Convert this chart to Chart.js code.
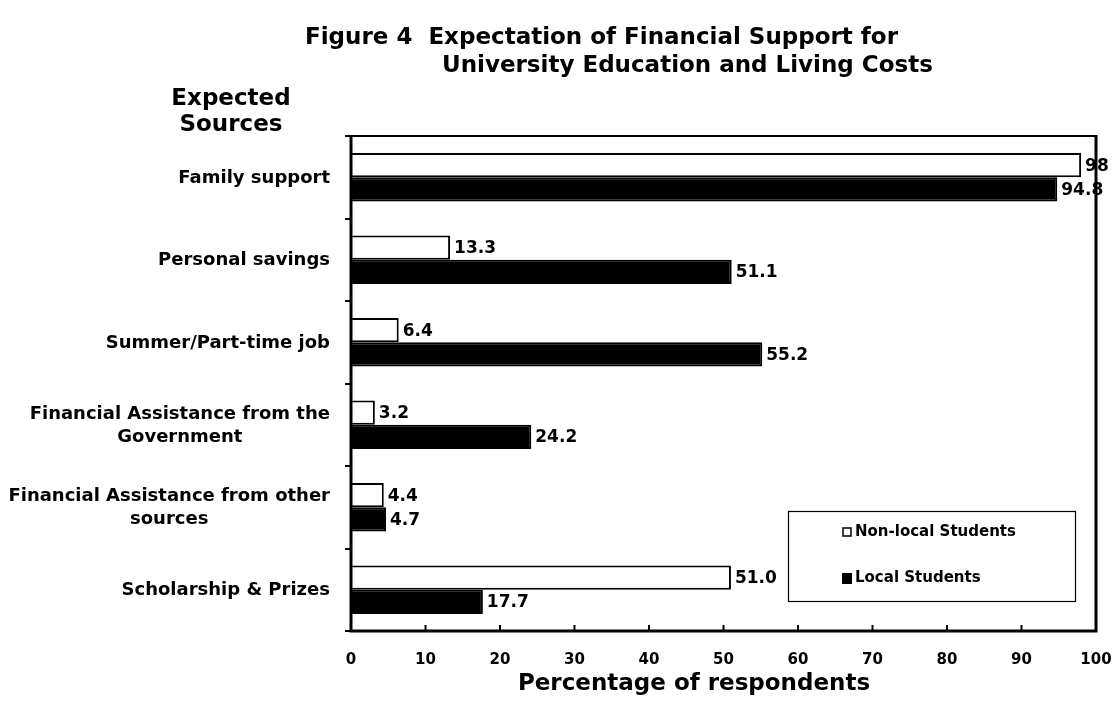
<!DOCTYPE html>
<html>
<head>
<meta charset="utf-8">
<script src="https://cdn.jsdelivr.net/npm/chart.js@4.4.1/dist/chart.umd.min.js"></script>
<style>
  html, body { margin: 0; padding: 0; background: #fff; }
  #wrap { width: 1118px; height: 702px; }
</style>
</head>
<body>
<div id="wrap"><canvas id="chart"></canvas></div>
<script>
var categories = [
  'Family support',
  'Personal savings',
  'Summer/Part-time job',
  ['Financial Assistance from the', 'Government'],
  ['Financial Assistance from other', 'sources'],
  'Scholarship & Prizes'
];
var nonLocal = [98, 13.3, 6.4, 3.2, 4.4, 51.0];
var local = [94.8, 51.1, 55.2, 24.2, 4.7, 17.7];
var nonLocalLabels = ['98', '13.3', '6.4', '3.2', '4.4', '51.0'];
var localLabels = ['94.8', '51.1', '55.2', '24.2', '4.7', '17.7'];
var xTicks = [0, 10, 20, 30, 40, 50, 60, 70, 80, 90, 100];

var FONT = "'DejaVu Sans', Verdana, sans-serif";

// value labels at the end of each bar
var barLabels = {
  id: 'barLabels',
  afterDatasetsDraw: function (chart) {
    var ctx = chart.ctx;
    var texts = [nonLocalLabels, localLabels];
    ctx.save();
    ctx.font = 'bold 17px ' + FONT;
    ctx.fillStyle = '#000';
    ctx.textBaseline = 'middle';
    ctx.textAlign = 'left';
    chart.data.datasets.forEach(function (ds, i) {
      chart.getDatasetMeta(i).data.forEach(function (bar, j) {
        ctx.fillText(texts[i][j], bar.x + 4, bar.y + 1);
      });
    });
    ctx.restore();
  }
};

// axis labels: category blocks right aligned with centred lines, x ticks below axis
var axisLabels = {
  id: 'axisLabels',
  afterDraw: function (chart) {
    var ctx = chart.ctx;
    var ys = chart.scales.y;
    var xs = chart.scales.x;
    ctx.save();
    ctx.font = 'bold 18px ' + FONT;
    ctx.fillStyle = '#000';
    ctx.textAlign = 'center';
    ctx.textBaseline = 'middle';
    categories.forEach(function (lab, i) {
      var lines = Array.isArray(lab) ? lab : [lab];
      var w = Math.max.apply(null, lines.map(function (l) { return ctx.measureText(l).width; }));
      var cx = ys.right - 21 - w / 2;
      var cy = ys.getPixelForTick(i) + 1;
      var lh = 23;
      lines.forEach(function (l, k) {
        ctx.fillText(l, cx, cy + (k - (lines.length - 1) / 2) * lh);
      });
    });
    ctx.font = 'bold 15px ' + FONT;
    xTicks.forEach(function (v) {
      ctx.fillText(String(v), xs.getPixelForValue(v), chart.chartArea.bottom + 29);
    });
    ctx.restore();
  }
};

// frame, inside ticks, legend box, titles
var decor = {
  id: 'decor',
  afterDraw: function (chart) {
    var ctx = chart.ctx;
    var a = chart.chartArea;
    var xs = chart.scales.x;
    ctx.save();
    ctx.strokeStyle = '#000';
    ctx.lineWidth = 2;
    ctx.beginPath();
    ctx.moveTo(a.left, a.top);
    ctx.lineTo(a.right, a.top);
    ctx.stroke();
    ctx.lineWidth = 3;
    ctx.beginPath();
    ctx.moveTo(a.left, a.top);
    ctx.lineTo(a.left, a.bottom);
    ctx.lineTo(a.right, a.bottom);
    ctx.lineTo(a.right, a.top - 1);
    ctx.stroke();
    // inside tick marks on x axis
    ctx.lineWidth = 2;
    xTicks.forEach(function (v) {
      var px = xs.getPixelForValue(v);
      ctx.beginPath();
      ctx.moveTo(px, a.bottom);
      ctx.lineTo(px, a.bottom - 6);
      ctx.stroke();
    });

    // legend
    ctx.lineWidth = 1.2;
    ctx.fillStyle = '#fff';
    ctx.fillRect(788, 511, 287, 90);
    ctx.strokeRect(788.5, 511.5, 287, 90);
    ctx.font = 'bold 15px ' + FONT;
    ctx.textBaseline = 'middle';
    ctx.textAlign = 'left';
    ctx.lineWidth = 1.5;
    ctx.fillStyle = '#fff';
    ctx.fillRect(843, 528, 8, 8);
    ctx.strokeRect(843, 528, 8, 8);
    ctx.fillStyle = '#000';
    ctx.fillRect(842, 573, 10, 11);
    ctx.fillText('Non-local Students', 855, 532);
    ctx.fillText('Local Students', 855, 578);

    // titles
    ctx.font = 'bold 23px ' + FONT;
    ctx.textBaseline = 'alphabetic';
    ctx.fillText('Figure 4  Expectation of Financial Support for', 305, 44);
    ctx.fillText('University Education and Living Costs', 442, 72);
    ctx.textAlign = 'center';
    ctx.fillText('Expected', 231, 105);
    ctx.fillText('Sources', 231, 131);
    ctx.fillText('Percentage of respondents', 694, 690);
    ctx.restore();
  }
};

new Chart(document.getElementById('chart').getContext('2d'), {
  type: 'bar',
  data: {
    labels: categories,
    datasets: [{
      label: 'Non-local Students',
      data: nonLocal,
      backgroundColor: '#fff',
      borderColor: '#000',
      borderWidth: 2,
      categoryPercentage: 0.59,
      barPercentage: 1.0
    }, {
      label: 'Local Students',
      data: local,
      backgroundColor: '#000',
      borderColor: '#000',
      borderWidth: 2,
      categoryPercentage: 0.59,
      barPercentage: 1.0
    }]
  },
  options: {
    indexAxis: 'y',
    responsive: true,
    maintainAspectRatio: false,
    animation: false,
    layout: { padding: { top: 136, left: 0, right: 22, bottom: 0 } },
    plugins: {
      legend: { display: false },
      title: { display: false },
      tooltip: { enabled: false }
    },
    scales: {
      x: {
        min: 0,
        max: 100,
        afterFit: function (scale) { scale.height = 71; },
        afterBuildTicks: function (scale) {
          scale.ticks = xTicks.map(function (v) { return { value: v }; });
        },
        grid: { display: false, drawTicks: false },
        border: { display: false },
        ticks: { display: false }
      },
      y: {
        afterFit: function (scale) { scale.width = 351; },
        grid: {
          offset: true,
          drawOnChartArea: false,
          tickLength: 6,
          color: '#000',
          lineWidth: 2
        },
        border: { display: false },
        ticks: { display: false }
      }
    }
  },
  plugins: [barLabels, axisLabels, decor]
});
</script>
</body>
</html>
